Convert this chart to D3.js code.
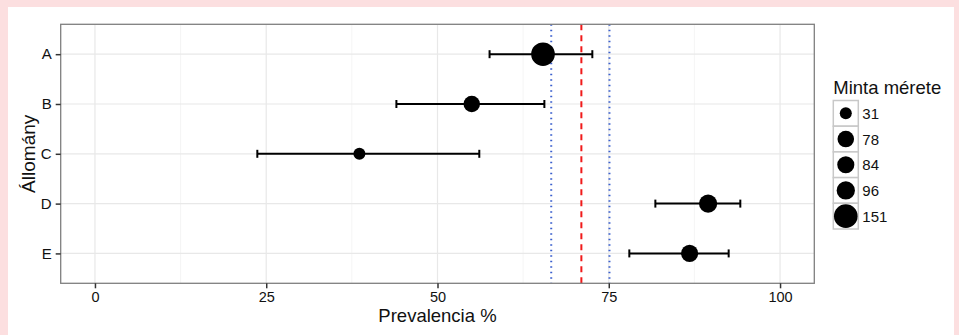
<!DOCTYPE html>
<html><head><meta charset="utf-8">
<script src="https://cdn.jsdelivr.net/npm/d3@7"></script>
<style>body{margin:0;background:#fcdfe0;} svg{display:block;}</style>
</head><body>
<script>
const categories = ["A","B","C","D","E"];
const prevalence = [65.4, 55.0, 38.6, 89.5, 86.8];
const lower = [57.6, 44.0, 23.7, 81.8, 78.0];
const upper = [72.6, 65.6, 56.1, 94.2, 92.5];
const sampleSize = [151, 78, 31, 96, 84];
const legendSizes = [31, 78, 84, 96, 151];
const xTicks = [0, 25, 50, 75, 100];
const xMinor = [12.5, 37.5, 62.5, 87.5];
const refMean = 71.0;
const refCI = [66.6, 75.1];

const W = 959, H = 335;
const svg = d3.select("body").append("svg").attr("width", W).attr("height", H);
svg.append("rect").attr("x",0).attr("y",0).attr("width",W).attr("height",H).attr("fill","#fcdfe0");
svg.append("rect").attr("x",8).attr("y",7).attr("width",946).attr("height",H-7).attr("fill","#fff");

const P = {l:60.7, r:814.3, t:24.3, b:283.3};
const x = d3.scaleLinear().domain([-5,105]).range([P.l,P.r]);
const y = d3.scalePoint().domain(categories).range([P.t,P.b]).padding(0.6);
const r = d3.scaleLinear().domain([31,151]).range([6,11.8]);
const font = "'Liberation Sans', Arial, Helvetica, sans-serif";

const g = svg.append("g");
// grid
g.selectAll(".minor").data(xMinor).join("line")
  .attr("x1",d=>x(d)).attr("x2",d=>x(d)).attr("y1",P.t).attr("y2",P.b)
  .attr("stroke","#f2f2f2").attr("stroke-width",0.8);
g.selectAll(".major").data(xTicks).join("line")
  .attr("x1",d=>x(d)).attr("x2",d=>x(d)).attr("y1",P.t).attr("y2",P.b)
  .attr("stroke","#e8e8e8").attr("stroke-width",1.2);
g.selectAll(".hgrid").data(categories).join("line")
  .attr("x1",P.l).attr("x2",P.r).attr("y1",d=>y(d)).attr("y2",d=>y(d))
  .attr("stroke","#e8e8e8").attr("stroke-width",1.2);

// reference lines
[refCI[0], refCI[1]].forEach(v=>{
  g.append("line").attr("x1",x(v)).attr("x2",x(v)).attr("y1",P.t).attr("y2",P.b)
   .attr("stroke","#3a5fcd").attr("stroke-width",2).attr("stroke-dasharray","1.5,4");
});
g.append("line").attr("x1",x(refMean)).attr("x2",x(refMean)).attr("y1",P.t).attr("y2",P.b)
 .attr("stroke","#f01a1a").attr("stroke-width",2).attr("stroke-dasharray","6,5");

// error bars
const rows = categories.map((c,i)=>({c, p:prevalence[i], lo:lower[i], hi:upper[i], n:sampleSize[i]}));
const eb = g.selectAll(".eb").data(rows).join("g");
eb.append("line").attr("x1",d=>x(d.lo)).attr("x2",d=>x(d.hi)).attr("y1",d=>y(d.c)).attr("y2",d=>y(d.c))
  .attr("stroke","#000").attr("stroke-width",2);
eb.append("line").attr("x1",d=>x(d.lo)).attr("x2",d=>x(d.lo)).attr("y1",d=>y(d.c)-4).attr("y2",d=>y(d.c)+4)
  .attr("stroke","#000").attr("stroke-width",2);
eb.append("line").attr("x1",d=>x(d.hi)).attr("x2",d=>x(d.hi)).attr("y1",d=>y(d.c)-4).attr("y2",d=>y(d.c)+4)
  .attr("stroke","#000").attr("stroke-width",2);
eb.append("circle").attr("cx",d=>x(d.p)).attr("cy",d=>y(d.c)).attr("r",d=>r(d.n)).attr("fill","#000");

// panel border
g.append("rect").attr("x",P.l).attr("y",P.t).attr("width",P.r-P.l).attr("height",P.b-P.t)
 .attr("fill","none").attr("stroke","#7f7f7f").attr("stroke-width",1.3);

// axes
const xAxis = svg.append("g").attr("transform",`translate(0,${P.b})`)
  .call(d3.axisBottom(x).tickValues(xTicks).tickSize(5).tickPadding(3));
const yAxis = svg.append("g").attr("transform",`translate(${P.l},0)`)
  .call(d3.axisLeft(y).tickSize(5).tickPadding(4));
[xAxis,yAxis].forEach(a=>{
  a.select(".domain").remove();
  a.selectAll(".tick line").attr("stroke","#333").attr("stroke-width",1.5);
  a.selectAll(".tick text").attr("fill","#111").attr("font-family",font).attr("font-size",14.5)
    .style("font-family",font).style("font-size","14.5px");
});
yAxis.selectAll(".tick text").style("font-size","15px");

svg.append("text").attr("x",x(50)).attr("y",322).attr("text-anchor","middle")
  .style("font-family",font).style("font-size","18.5px").attr("fill","#111").text("Prevalencia %");
svg.append("text").attr("transform",`translate(35,${(P.t+P.b)/2}) rotate(-90)`).attr("text-anchor","middle")
  .style("font-family",font).style("font-size","19px").attr("fill","#111").text("Állomány");

// legend
const L = {x:833.3, y:100.5, w:25, h:25.7};
svg.append("text").attr("x",L.x).attr("y",94).style("font-family",font).style("font-size","18.5px")
  .attr("fill","#111").text("Minta mérete");
const lg = svg.selectAll(".lg").data(legendSizes).join("g")
  .attr("transform",(d,i)=>`translate(${L.x},${L.y+i*L.h})`);
lg.append("rect").attr("x",0).attr("y",0).attr("width",L.w).attr("height",L.h)
  .attr("fill","#fff").attr("stroke","#c8c8c8").attr("stroke-width",1.5);
lg.append("circle").attr("cx",L.w/2).attr("cy",L.h/2).attr("r",d=>r(d)).attr("fill","#000");
lg.append("text").attr("x",L.w+4).attr("y",L.h/2+5.5).style("font-family",font).style("font-size","15px")
  .attr("fill","#111").text(d=>d);
</script>
</body></html>
